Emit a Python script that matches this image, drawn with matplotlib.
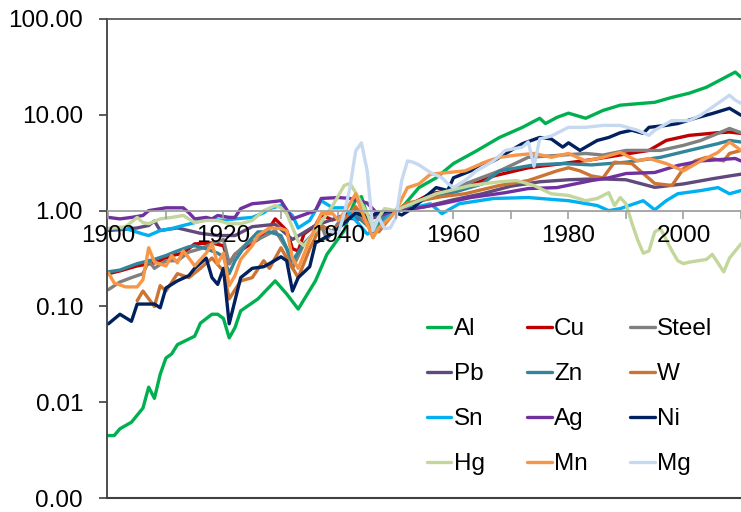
import matplotlib.pyplot as plt
from matplotlib.ticker import FixedLocator, FuncFormatter

plt.rcParams['font.family'] = ['Liberation Sans', 'DejaVu Sans']

# index values (1950 ~ 1.0)
al_years = [1900, 1901, 1902, 1904, 1906, 1907, 1908, 1909, 1910, 1911, 1912, 1915, 1916, 1918,
            1919, 1920, 1921, 1922, 1923, 1926, 1929, 1931, 1933, 1936, 1938, 1941, 1942, 1943,
            1944, 1945, 1946, 1948, 1950, 1951, 1954, 1957, 1960, 1964, 1968, 1972, 1975, 1976,
            1978, 1980, 1983, 1986, 1989, 1995, 1998, 2001, 2004, 2007, 2009, 2010]
al_vals = [0.0045, 0.0045, 0.0053, 0.0062, 0.0087, 0.0144, 0.011, 0.0196, 0.029, 0.032, 0.040,
           0.049, 0.067, 0.083, 0.083, 0.075, 0.047, 0.06, 0.09, 0.12, 0.185, 0.135, 0.094,
           0.185, 0.35, 0.62, 0.95, 1.3, 1.4, 0.9, 0.6, 0.8, 1.0, 1.07, 1.74, 2.2, 3.1, 4.2,
           5.8, 7.4, 9.2, 8.1, 9.4, 10.4, 9.2, 11.1, 12.6, 13.5, 15.2, 16.8, 19.4, 24.1, 27.9, 24.7]

cu_years = [1900, 1902, 1905, 1908, 1911, 1913, 1915, 1918, 1920, 1921, 1922, 1924, 1926, 1928,
            1929, 1931, 1932, 1933, 1934, 1936, 1937, 1939, 1941, 1943, 1945, 1947, 1950, 1953,
            1956, 1962, 1967, 1973, 1979, 1984, 1990, 1994, 1997, 2001, 2006, 2008, 2010]
cu_vals = [0.22, 0.235, 0.265, 0.285, 0.34, 0.36, 0.45, 0.46, 0.43, 0.28, 0.35, 0.42, 0.5, 0.66,
           0.82, 0.62, 0.4, 0.38, 0.57, 0.7, 0.9, 0.8, 0.9, 1.05, 0.85, 0.9, 1.0, 1.2, 1.5, 1.74,
           2.3, 2.8, 3.1, 3.4, 3.9, 4.25, 5.4, 6.1, 6.5, 6.6, 6.4]

steel_years = [1900, 1902, 1904, 1906, 1907, 1908, 1910, 1912, 1914, 1916, 1918, 1920, 1921, 1922,
               1924, 1926, 1929, 1931, 1932, 1934, 1937, 1938, 1940, 1942, 1944, 1946, 1948, 1950,
               1953, 1956, 1962, 1968, 1973, 1979, 1983, 1986, 1990, 1996, 2000, 2003, 2006, 2008,
               2010]
steel_vals = [0.15, 0.18, 0.2, 0.22, 0.3, 0.25, 0.3, 0.3, 0.37, 0.4, 0.45, 0.5, 0.28, 0.35, 0.45,
              0.5, 0.62, 0.4, 0.25, 0.45, 0.7, 0.5, 0.75, 0.85, 0.9, 0.7, 0.9, 1.0, 1.2, 1.4, 1.9,
              2.6, 3.6, 3.8, 3.95, 3.8, 4.25, 4.25, 4.8, 5.4, 6.4, 7.2, 6.5]

pb_years = [1900, 1903, 1905, 1907, 1908, 1909, 1912, 1916, 1919, 1922, 1925, 1929, 1932, 1936,
            1940, 1945, 1950, 1955, 1960, 1965, 1970, 1975, 1980, 1985, 1990, 1995, 2000, 2005,
            2008, 2010]
pb_vals = [0.62, 0.64, 0.66, 0.7, 0.78, 0.62, 0.66, 0.58, 0.55, 0.55, 0.68, 0.72, 0.5, 0.7, 0.85,
           0.8, 1.0, 1.1, 1.3, 1.5, 1.8, 2.0, 2.1, 2.15, 2.1, 1.75, 1.9, 2.15, 2.3, 2.4]

zn_years = [1900, 1902, 1905, 1908, 1910, 1912, 1914, 1915, 1917, 1919, 1920, 1921, 1922, 1924,
            1926, 1928, 1930, 1932, 1934, 1937, 1939, 1941, 1943, 1945, 1947, 1950, 1955, 1960,
            1965, 1968, 1974, 1979, 1984, 1990, 1996, 2001, 2006, 2008, 2010]
zn_vals = [0.23, 0.24, 0.28, 0.31, 0.34, 0.38, 0.42, 0.43, 0.4, 0.36, 0.33, 0.22, 0.3, 0.45, 0.6,
           0.6, 0.55, 0.3, 0.45, 0.7, 0.6, 0.8, 0.9, 0.7, 0.75, 1.0, 1.3, 1.55, 1.9, 2.6, 3.0,
           3.1, 3.0, 3.2, 3.6, 4.25, 5.0, 5.4, 5.2]

w_years = [1905, 1906, 1908, 1909, 1910, 1912, 1914, 1916, 1918, 1920, 1921, 1923, 1925, 1927,
           1928, 1930, 1931, 1933, 1935, 1937, 1939, 1941, 1943, 1945, 1947, 1950, 1952, 1955,
           1958, 1962, 1968, 1973, 1978, 1980, 1982, 1984, 1986, 1988, 1991, 1993, 1995, 1998,
           2000, 2002, 2004, 2007, 2008, 2010]
w_vals = [0.115, 0.145, 0.1, 0.165, 0.145, 0.22, 0.2, 0.25, 0.32, 0.235, 0.12, 0.185, 0.2, 0.3,
          0.25, 0.41, 0.32, 0.2, 0.4, 0.7, 0.6, 0.8, 1.1, 0.7, 0.6, 1.0, 1.2, 1.3, 1.4, 1.5, 1.83,
          2.06, 2.6, 2.8, 2.6, 2.3, 2.2, 3.2, 3.1, 2.44, 1.92, 1.83, 2.75, 3.3, 3.6, 3.3, 3.95, 4.25]

sn_years = [1900, 1903, 1906, 1907, 1909, 1911, 1913, 1915, 1917, 1920, 1922, 1925, 1927, 1928,
            1930, 1932, 1933, 1935, 1937, 1939, 1941, 1943, 1945, 1947, 1949, 1950, 1953, 1956,
            1958, 1961, 1967, 1973, 1980, 1985, 1987, 1989, 1993, 1995, 1997, 1999, 2003, 2006,
            2008, 2010]
sn_vals = [0.65, 0.65, 0.57, 0.55, 0.62, 0.65, 0.7, 0.75, 0.82, 0.79, 0.82, 0.85, 0.95, 1.05,
           1.13, 0.89, 0.66, 0.79, 1.27, 1.07, 1.07, 0.79, 0.57, 0.66, 0.93, 1.0, 1.07, 1.18,
           0.93, 1.18, 1.34, 1.37, 1.27, 1.13, 1.0, 1.05, 1.27, 1.02, 1.27, 1.5, 1.62, 1.74,
           1.5, 1.62]

ag_years = [1900, 1902, 1904, 1906, 1907, 1910, 1913, 1914, 1915, 1917, 1918, 1919, 1921, 1922,
            1923, 1925, 1927, 1930, 1932, 1936, 1937, 1940, 1942, 1945, 1947, 1950, 1954, 1958,
            1963, 1969, 1973, 1978, 1984, 1987, 1990, 1995, 1999, 2003, 2009, 2010]
ag_vals = [0.85, 0.82, 0.85, 0.89, 1.0, 1.07, 1.07, 0.95, 0.82, 0.85, 0.82, 0.89, 0.85, 0.85,
           1.05, 1.18, 1.21, 1.27, 0.82, 1.0, 1.34, 1.37, 1.34, 1.2, 0.9, 1.0, 1.07, 1.18, 1.37,
           1.54, 1.7, 1.74, 2.06, 2.2, 2.44, 2.5, 2.96, 3.3, 3.5, 3.3]

ni_years = [1900, 1902, 1904, 1905, 1908, 1909, 1910, 1912, 1914, 1915, 1917, 1918, 1919, 1920,
            1921, 1923, 1925, 1927, 1928, 1930, 1931, 1932, 1933, 1935, 1936, 1939, 1941, 1943,
            1945, 1947, 1949, 1951, 1953, 1955, 1957, 1959, 1960, 1963, 1965, 1967, 1970, 1972,
            1975, 1977, 1979, 1980, 1982, 1985, 1987, 1989, 1991, 1993, 1994, 1997, 1999, 2002,
            2005, 2008, 2010]
ni_vals = [0.066, 0.083, 0.07, 0.106, 0.106, 0.097, 0.156, 0.185, 0.21, 0.25, 0.32, 0.2, 0.17,
           0.25, 0.066, 0.2, 0.25, 0.26, 0.28, 0.33, 0.3, 0.145, 0.2, 0.26, 0.46, 0.58, 0.74,
           0.95, 0.85, 0.95, 1.0, 0.9, 1.07, 1.37, 1.74, 1.62, 2.2, 2.6, 3.1, 3.3, 4.25, 5.0,
           5.8, 5.6, 4.6, 5.1, 4.25, 5.4, 5.8, 6.5, 6.9, 6.4, 7.4, 7.75, 8.1, 9.2, 10.3, 11.7, 9.9]

hg_years = [1900, 1903, 1905, 1906, 1907, 1909, 1911, 1913, 1915, 1917, 1919, 1921, 1923, 1925,
            1927, 1929, 1930, 1931, 1933, 1934, 1936, 1938, 1939, 1941, 1942, 1943, 1945, 1946,
            1947, 1948, 1950, 1951, 1957, 1963, 1968, 1971, 1974, 1977, 1980, 1983, 1985, 1987,
            1988, 1989, 1990, 1991, 1992, 1993, 1994, 1995, 1996, 1998, 1999, 2000, 2001, 2004,
            2005, 2007, 2008, 2010]
hg_vals = [0.65, 0.68, 0.85, 0.75, 0.73, 0.82, 0.85, 0.89, 0.75, 0.79, 0.79, 0.73, 0.73, 0.79,
           1.0, 1.13, 1.07, 0.93, 0.48, 0.43, 0.62, 0.93, 1.13, 1.83, 1.92, 1.54, 0.93, 0.66,
           0.85, 1.05, 1.0, 1.07, 1.5, 1.83, 2.0, 2.06, 1.83, 1.5, 1.44, 1.27, 1.34, 1.54, 1.13,
           1.37, 1.18, 0.75, 0.5, 0.36, 0.38, 0.6, 0.65, 0.38, 0.3, 0.28, 0.29, 0.31, 0.35, 0.23,
           0.32, 0.45]

mn_years = [1900, 1901, 1903, 1905, 1906, 1907, 1908, 1910, 1911, 1912, 1913, 1914, 1915, 1917,
            1918, 1919, 1920, 1921, 1922, 1923, 1925, 1926, 1928, 1930, 1931, 1932, 1933, 1935,
            1937, 1939, 1940, 1942, 1943, 1944, 1946, 1947, 1949, 1950, 1952, 1954, 1956, 1962,
            1966, 1968, 1971, 1974, 1977, 1980, 1983, 1986, 1989, 1992, 1994, 1997, 2000, 2003,
            2006, 2008, 2010]
mn_vals = [0.224, 0.176, 0.16, 0.16, 0.19, 0.41, 0.29, 0.265, 0.34, 0.285, 0.38, 0.32, 0.265,
           0.36, 0.45, 0.28, 0.36, 0.165, 0.21, 0.31, 0.43, 0.55, 0.66, 0.65, 0.62, 0.32, 0.25,
           0.49, 0.93, 0.93, 0.79, 1.18, 1.5, 1.0, 0.52, 0.66, 0.85, 1.0, 1.74, 1.9, 2.4, 2.6,
           3.3, 3.6, 3.8, 3.95, 3.6, 3.95, 3.3, 3.6, 4.05, 3.3, 3.5, 3.1, 2.6, 3.3, 4.05, 5.2, 4.25]

mg_years = [1938, 1940, 1941, 1942, 1943, 1944, 1945, 1946, 1947, 1948, 1949, 1950, 1951, 1952,
            1953, 1954, 1956, 1958, 1959, 1960, 1962, 1964, 1967, 1969, 1972, 1973, 1974, 1975,
            1977, 1980, 1983, 1986, 1989, 1992, 1994, 1995, 1998, 2001, 2003, 2006, 2008, 2009,
            2010]
mg_vals = [0.62, 0.58, 0.93, 1.74, 4.2, 5.1, 2.6, 0.62, 0.85, 0.65, 0.66, 0.85, 2.06, 3.3, 3.2,
           3.0, 2.5, 2.2, 1.92, 1.74, 2.06, 2.6, 3.3, 4.25, 4.6, 5.2, 2.9, 5.6, 6.0, 7.4, 7.4,
           7.75, 7.75, 6.9, 6.1, 6.9, 8.7, 8.7, 9.9, 13.2, 16.0, 14.2, 13.2]

series = [
    ('Al', al_years, al_vals, '#00B050'),
    ('Cu', cu_years, cu_vals, '#C00000'),
    ('Steel', steel_years, steel_vals, '#808080'),
    ('Pb', pb_years, pb_vals, '#604A7B'),
    ('Zn', zn_years, zn_vals, '#31859C'),
    ('W', w_years, w_vals, '#CC7433'),
    ('Sn', sn_years, sn_vals, '#00B0F0'),
    ('Ag', ag_years, ag_vals, '#7030A0'),
    ('Ni', ni_years, ni_vals, '#002060'),
    ('Hg', hg_years, hg_vals, '#C3D69B'),
    ('Mn', mn_years, mn_vals, '#F79646'),
    ('Mg', mg_years, mg_vals, '#C6D9F1'),
]

fig = plt.figure(figsize=(7.41, 5.12), dpi=100)
ax = fig.add_axes([0.144, 0.027, 0.856, 0.936])

lines = {}
for name, yrs, vals, col in series:
    ln, = ax.plot(yrs, vals, color=col, lw=2.4, label=name,
                  solid_joinstyle='round', solid_capstyle='round')
    lines[name] = ln

ax.set_yscale('log')
ax.set_ylim(0.001, 100)
ax.set_xlim(1899.7, 2009.6)
ax.set_axisbelow(False)

ax.yaxis.set_major_locator(FixedLocator([0.001, 0.01, 0.1, 1, 10, 100]))
ax.yaxis.set_minor_locator(FixedLocator([]))
ax.yaxis.set_major_formatter(FuncFormatter(lambda v, p: f'{v:.2f}'))
ax.tick_params(axis='y', which='major', direction='out', length=6, width=1.2,
               color='#404040', labelsize=17.5, pad=11)

# x axis crosses at 1.0
ax.spines['bottom'].set_position(('data', 1.0))
ax.spines['bottom'].set_color('#A0A0A0')
ax.spines['bottom'].set_linewidth(1.3)
ax.set_xticks(range(1900, 2001, 20))
ax.set_xticks(range(1910, 2011, 20), minor=True)
ax.tick_params(axis='x', which='both', direction='out', length=6, width=1.2,
               color='#A0A0A0', labelsize=17.5, pad=4)

ax.spines['right'].set_visible(False)
ax.spines['top'].set_color('#595959')
ax.spines['top'].set_linewidth(1.3)
ax.spines['left'].set_color('#404040')
ax.spines['left'].set_linewidth(1.3)
ax.plot([0, 1], [0, 0], transform=ax.transAxes, color='#404040', lw=1.5, clip_on=False)

order = ['Al', 'Pb', 'Sn', 'Hg', 'Cu', 'Zn', 'Ag', 'Mn', 'Steel', 'W', 'Ni', 'Mg']
ax.legend([lines[n] for n in order], order, ncol=3, frameon=False, fontsize=17.5,
          loc='upper left', bbox_to_anchor=(427 / 741, 1 - 318 / 512),
          bbox_transform=fig.transFigure, borderpad=0, borderaxespad=0,
          handlelength=1.0, handletextpad=0.1, columnspacing=1.75, labelspacing=0.95)

fig.savefig('out.png', dpi=100)
